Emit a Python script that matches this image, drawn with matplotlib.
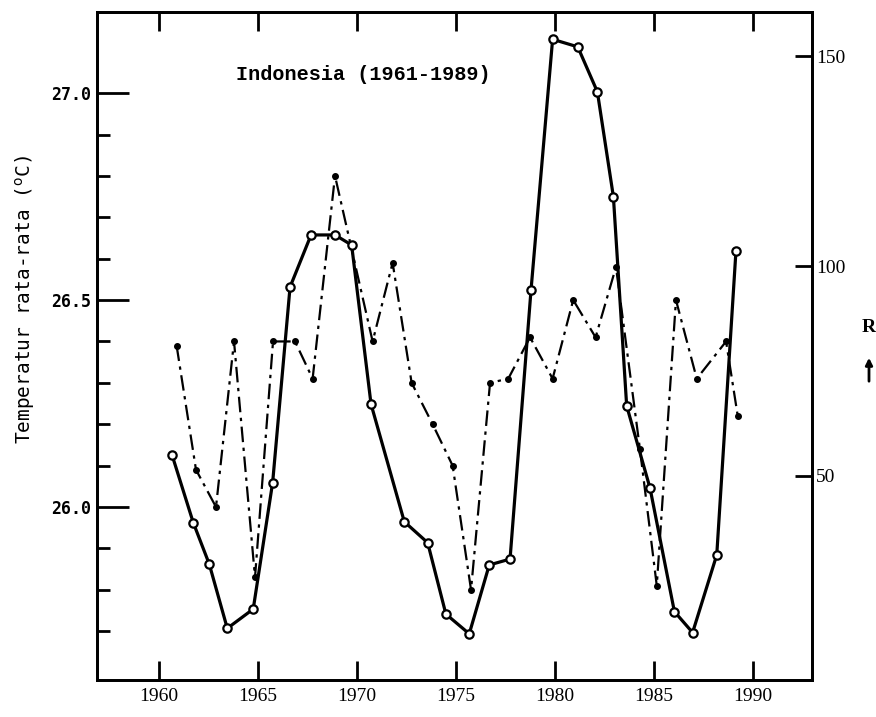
import numpy as np
import matplotlib
matplotlib.use("Agg")
import matplotlib.pyplot as plt

# sunspot number R (right axis), open circles, solid line
sun_years = [1960.66, 1961.73, 1962.54, 1963.45, 1964.76, 1965.74, 1966.62, 1967.68,
             1968.89, 1969.73, 1970.71, 1972.39, 1973.57, 1974.49, 1975.67, 1976.68,
             1977.73, 1978.79, 1979.88, 1981.15, 1982.14, 1982.95, 1983.62, 1984.80,
             1986.03, 1986.95, 1988.17, 1989.14]
sun_R = [55, 38.9, 29, 13.7, 18.3, 48.4, 95, 107.4,
         107.4, 105, 67.1, 39.1, 34.1, 17.1, 12.4, 28.8,
         30.2, 94.3, 154, 152.2, 141.5, 116.5, 66.7, 47.1,
         17.7, 12.7, 31.2, 103.6]

# mean temperature (left axis), small filled dots, dash-dot line
temp_years = [1960.89, 1961.87, 1962.88, 1963.79, 1964.85, 1965.76, 1966.87, 1967.76,
              1968.89, 1970.79, 1971.80, 1972.76, 1973.82, 1974.83, 1975.76, 1976.72,
              1977.64, 1978.74, 1979.88, 1980.92, 1982.05, 1983.08, 1984.29, 1985.14,
              1986.11, 1987.16, 1988.64, 1989.23]
temp_T = [26.39, 26.09, 26.00, 26.40, 25.83, 26.40, 26.40, 26.31,
          26.80, 26.40, 26.59, 26.30, 26.20, 26.10, 25.80, 26.30,
          26.31, 26.41, 26.31, 26.50, 26.41, 26.58, 26.14, 25.81,
          26.50, 26.31, 26.40, 26.22]

x_ticks = [1960, 1965, 1970, 1975, 1980, 1985, 1990]
t_major = [26.0, 26.5, 27.0]
t_minor = [25.7, 25.8, 25.9, 26.1, 26.2, 26.3, 26.4, 26.6, 26.7, 26.8, 26.9]
r_ticks = [50, 100, 150]

fig = plt.figure(figsize=(8.76, 7.17), dpi=100)
ax = fig.add_axes([97/876, 1-680/717, (812-97)/876, (680-12)/717])
ax2 = ax.twinx()

ax.plot(temp_years, temp_T, color='black', lw=1.6, linestyle=(0, (7, 2.5, 1.5, 2.5)),
        marker='o', markersize=4, markerfacecolor='black', zorder=3)
ax2.plot(sun_years, sun_R, color='black', lw=2.3, marker='o', markersize=6,
         markerfacecolor='white', markeredgewidth=1.6, zorder=4)

ax.set_xlim(1956.87, 1992.98)
ax.set_ylim(25.582, 27.196)
ax2.set_ylim(1.4, 160.5)

for a in (ax, ax2):
    for s in a.spines.values():
        s.set_linewidth(2)

ax.set_xticks(x_ticks)
ax.set_xticklabels([str(v) for v in x_ticks], family='Liberation Serif', fontsize=14)
ax.tick_params(axis='x', direction='in', length=14, width=2, top=True, pad=6)

ax.set_yticks(t_major)
ax.set_yticks(t_minor, minor=True)
ax.set_yticklabels(['26.0', '26.5', '27.0'], family='DejaVu Sans Mono', fontsize=12,
                   fontweight='bold')
ax.tick_params(axis='y', which='major', direction='in', length=23, width=2, pad=4)
ax.tick_params(axis='y', which='minor', direction='in', length=9, width=2)

ax2.set_yticks(r_ticks)
ax2.set_yticklabels([str(v) for v in r_ticks], family='Liberation Serif', fontsize=14)
ax2.tick_params(axis='y', direction='in', length=12, width=2, pad=3)

fig.text(25/876, 1-300/717, r'Temperatur rata-rata ($^{\rm o}$C)', rotation=90,
         ha='center', va='center', family='DejaVu Sans Mono', fontsize=14)
fig.text(363/876, 1-75/717, 'Indonesia (1961-1989)', ha='center', va='center',
         family='Liberation Mono', fontweight='bold', fontsize=14.5)
fig.text(869/876, 1-328/717, 'R', ha='center', va='center',
         family='Liberation Serif', fontweight='bold', fontsize=14)
ax.annotate('', xy=(869, 717-355), xytext=(869, 717-384), xycoords='figure pixels',
            textcoords='figure pixels',
            arrowprops=dict(arrowstyle='-|>', color='black', lw=2, mutation_scale=10))

fig.savefig('out.png', dpi=100)
